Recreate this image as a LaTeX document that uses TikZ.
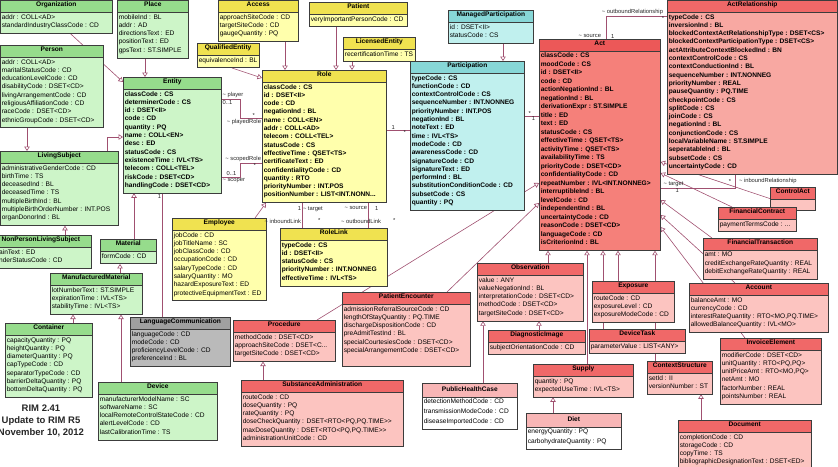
\documentclass[tikz,border=0pt]{standalone}
\usepackage{fontspec}
\setmainfont{Liberation Sans}
\usetikzlibrary{shapes.multipart, arrows.meta, backgrounds, positioning}
\setlength{\parindent}{0pt}

\definecolor{grnhd}{RGB}{150,220,140}
\definecolor{grnbd}{RGB}{205,245,200}
\definecolor{ylwhd}{RGB}{240,226,80}
\definecolor{ylwbd}{RGB}{255,255,172}
\definecolor{cynhd}{RGB}{135,215,215}
\definecolor{cynbd}{RGB}{192,240,238}
\definecolor{acthd}{RGB}{236,88,88}
\definecolor{actbd}{RGB}{245,128,122}
\definecolor{arbd}{RGB}{248,168,162}
\definecolor{pnkhd}{RGB}{240,104,104}
\definecolor{pnkbd}{RGB}{252,196,192}
\definecolor{palehd}{RGB}{248,182,182}
\definecolor{gryhd}{RGB}{160,160,160}
\definecolor{grybd}{RGB}{186,186,186}
\definecolor{lnk}{RGB}{160,80,112}
\definecolor{boxline}{RGB}{60,60,60}

\newcommand{\ttl}[1]{\rule[-1.8pt]{0pt}{6.6pt}\textbf{#1}}

\tikzset{
  umlclass/.style={rectangle split, rectangle split parts=2,
    rectangle split part align={center,left}, draw=boxline, line width=0.6pt,
    inner xsep=1.5pt, inner ysep=1.5pt, align=left, anchor=north west,
    font=\fontsize{6.6}{8.3}\selectfont,
    execute at end node={\rule[-3.8pt]{0pt}{1pt}}},
  entitycls/.style={umlclass, rectangle split part fill={grnhd,grnbd}},
  rolecls/.style={umlclass, rectangle split part fill={ylwhd,ylwbd}},
  partcls/.style={umlclass, rectangle split part fill={cynhd,cynbd}},
  actcls/.style={umlclass, rectangle split part fill={pnkhd,pnkbd}},
  palecls/.style={umlclass, rectangle split part fill={palehd,white},
    font=\fontsize{6.6}{10}\selectfont},
  othercls/.style={umlclass, rectangle split part fill={gryhd,grybd}},
  core/.style={font=\fontsize{6.6}{8.3}\selectfont\bfseries},
  gen/.style={draw=lnk, line width=0.6pt, -{Triangle[open, length=4.5pt, width=5.5pt]}},
  assoc/.style={draw=lnk, line width=0.6pt},
  lbl/.style={font=\fontsize{5.8}{7}\selectfont, inner sep=0.8pt, text=black!85},
}

\begin{document}
\begin{tikzpicture}[x=1pt, y=-1pt]
\useasboundingbox (0,0) rectangle (838,466);

% Entity classes
\node[entitycls, minimum width=112pt] (org) at (0,0)
  {\ttl{Organization}\nodepart{two}addr : COLL<AD>\\standardIndustryClassCode : CD};
\node[entitycls, minimum width=103pt] (person) at (0,45)
  {\ttl{Person}\nodepart{two}addr : COLL<AD>\\maritalStatusCode : CD\\educationLevelCode : CD\\disabilityCode : DSET<CD>\\livingArrangementCode : CD\\religiousAffiliationCode : CD\\raceCode : DSET<CD>\\ethnicGroupCode : DSET<CD>};
\node[entitycls, minimum width=118pt] (livsub) at (0,151)
  {\ttl{LivingSubject}\nodepart{two}administrativeGenderCode : CD\\birthTime : TS\\deceasedInd : BL\\deceasedTime : TS\\multipleBirthInd : BL\\multipleBirthOrderNumber : INT.POS\\organDonorInd : BL};
\node[entitycls, minimum width=101pt] (nonpers) at (-10,235)
  {\ttl{NonPersonLivingSubject}\nodepart{two}strainText : ED\\genderStatusCode : CD};
\node[entitycls, minimum width=71pt] (place) at (117,0)
  {\ttl{Place}\nodepart{two}mobileInd : BL\\addr : AD\\directionsText : ED\\positionText : ED\\gpsText : ST.SIMPLE};
\node[entitycls, core, minimum width=98pt] (entity) at (123,77)
  {Entity\nodepart{two}classCode : CS\\determinerCode : CS\\id : DSET<II>\\code : CD\\quantity : PQ\\name : COLL<EN>\\desc : ED\\statusCode : CS\\existenceTime : IVL<TS>\\telecom : COLL<TEL>\\riskCode : DSET<CD>\\handlingCode : DSET<CD>};
\node[entitycls, minimum width=56pt] (material) at (100,239)
  {\ttl{Material}\nodepart{two}formCode : CD};
\node[entitycls, minimum width=92pt] (manmat) at (50,273)
  {\ttl{ManufacturedMaterial}\nodepart{two}lotNumberText : ST.SIMPLE\\expirationTime : IVL<TS>\\stabilityTime : IVL<TS>};
\node[entitycls, minimum width=87pt] (container) at (5,323)
  {\ttl{Container}\nodepart{two}capacityQuantity : PQ\\heightQuantity : PQ\\diameterQuantity : PQ\\capTypeCode : CD\\separatorTypeCode : CD\\barrierDeltaQuantity : PQ\\bottomDeltaQuantity : PQ};
\node[entitycls, minimum width=119pt] (device) at (98,382)
  {\ttl{Device}\nodepart{two}manufacturerModelName : SC\\softwareName : SC\\localRemoteControlStateCode : CD\\alertLevelCode : CD\\lastCalibrationTime : TS};
\node[othercls, minimum width=100pt] (langcomm) at (130,317)
  {\ttl{LanguageCommunication}\nodepart{two}languageCode : CD\\modeCode : CD\\proficiencyLevelCode : CD\\preferenceInd : BL};

% Role classes
\node[rolecls, minimum width=80pt] (access) at (218,0)
  {\ttl{Access}\nodepart{two}approachSiteCode : CD\\targetSiteCode : CD\\gaugeQuantity : PQ};
\node[rolecls, minimum width=58pt] (qualent) at (197,43)
  {\ttl{QualifiedEntity}\nodepart{two}equivalenceInd : BL};
\node[rolecls, minimum width=98pt] (patient) at (309,2)
  {\ttl{Patient}\nodepart{two}veryImportantPersonCode : CD};
\node[rolecls, minimum width=72pt] (licent) at (343,37)
  {\ttl{LicensedEntity}\nodepart{two}recertificationTime : TS};
\node[rolecls, core, minimum width=124pt] (role) at (262,70)
  {Role\nodepart{two}classCode : CS\\id : DSET<II>\\code : CD\\negationInd : BL\\name : COLL<EN>\\addr : COLL<AD>\\telecom : COLL<TEL>\\statusCode : CS\\effectiveTime : QSET<TS>\\certificateText : ED\\confidentialityCode : CD\\quantity : RTO\\priorityNumber : INT.POS\\positionNumber : LIST<INT.NONN...};
\node[rolecls, minimum width=94pt] (employee) at (172,218)
  {\ttl{Employee}\nodepart{two}jobCode : CD\\jobTitleName : SC\\jobClassCode : CD\\occupationCode : CD\\salaryTypeCode : CD\\salaryQuantity : MO\\hazardExposureText : ED\\protectiveEquipmentText : ED};
\node[rolecls, core, minimum width=107pt] (rolelink) at (280,228)
  {RoleLink\nodepart{two}typeCode : CS\\id : DSET<II>\\statusCode : CS\\priorityNumber : INT.NONNEG\\effectiveTime : IVL<TS>};

% Participation classes
\node[partcls, minimum width=85pt] (mngpart) at (448,10)
  {\ttl{ManagedParticipation}\nodepart{two}id : DSET<II>\\statusCode : CS};
\node[partcls, core, minimum width=114pt] (part) at (410,61)
  {Participation\nodepart{two}typeCode : CS\\functionCode : CD\\contextControlCode : CS\\sequenceNumber : INT.NONNEG\\priorityNumber : INT.POS\\negationInd : BL\\noteText : ED\\time : IVL<TS>\\modeCode : CD\\awarenessCode : CD\\signatureCode : CD\\signatureText : ED\\performInd : BL\\substitutionConditionCode : CD\\subsetCode : CS\\quantity : PQ};

% Act classes
\node[actcls, core, rectangle split part fill={acthd,actbd}, font=\fontsize{6.6}{8.5}\selectfont\bfseries, minimum width=121pt] (act) at (539,39)
  {Act\nodepart{two}classCode : CS\\moodCode : CS\\id : DSET<II>\\code : CD\\actionNegationInd : BL\\negationInd : BL\\derivationExpr : ST.SIMPLE\\title : ED\\text : ED\\statusCode : CS\\effectiveTime : QSET<TS>\\activityTime : QSET<TS>\\availabilityTime : TS\\priorityCode : DSET<CD>\\confidentialityCode : CD\\repeatNumber : IVL<INT.NONNEG>\\interruptibleInd : BL\\levelCode : CD\\independentInd : BL\\uncertaintyCode : CD\\reasonCode : DSET<CD>\\languageCode : CD\\isCriterionInd : BL};
\node[actcls, core, rectangle split part fill={pnkhd,arbd}, minimum width=170pt] (actrel) at (667,0)
  {ActRelationship\nodepart{two}typeCode : CS\\inversionInd : BL\\blockedContextActRelationshipType : DSET<CS>\\blockedContextParticipationType : DSET<CS>\\actAttributeContextBlockedInd : BN\\contextControlCode : CS\\contextConductionInd : BL\\sequenceNumber : INT.NONNEG\\priorityNumber : REAL\\pauseQuantity : PQ.TIME\\checkpointCode : CS\\splitCode : CS\\joinCode : CS\\negationInd : BL\\conjunctionCode : CS\\localVariableName : ST.SIMPLE\\seperatableInd : BL\\subsetCode : CS\\uncertaintyCode : CD};
\node[actcls, minimum width=45pt, execute at end node={}] (controlact) at (770,187)
  {\ttl{ControlAct}\nodepart{two}\rule{0pt}{3pt}};
\node[actcls, minimum width=78pt] (fincontract) at (718,207)
  {\ttl{FinancialContract}\nodepart{two}paymentTermsCode : ...};
\node[actcls, minimum width=114pt] (fintrans) at (703,238)
  {\ttl{FinancialTransaction}\nodepart{two}amt : MO\\creditExchangeRateQuantity : REAL\\debitExchangeRateQuantity : REAL};
\node[actcls, minimum width=139pt] (account) at (689,283)
  {\ttl{Account}\nodepart{two}balanceAmt : MO\\currencyCode : CD\\interestRateQuantity : RTO<MO,PQ.TIME>\\allowedBalanceQuantity : IVL<MO>};
\node[actcls, minimum width=101pt] (invoice) at (720,338)
  {\ttl{InvoiceElement}\nodepart{two}modifierCode : DSET<CD>\\unitQuantity : RTO<PQ,PQ>\\unitPriceAmt : RTO<MO,PQ>\\netAmt : MO\\factorNumber : REAL\\pointsNumber : REAL};
\node[actcls, minimum width=65pt] (ctxstruct) at (647,361)
  {\ttl{ContextStructure}\nodepart{two}setId : II\\versionNumber : ST};
\node[actcls, minimum width=133pt] (document) at (678,420)
  {\ttl{Document}\nodepart{two}completionCode : CD\\storageCode : CD\\copyTime : TS\\bibliographicDesignationText : DSET<ED>};
\node[actcls, minimum width=82pt] (exposure) at (592,281)
  {\ttl{Exposure}\nodepart{two}routeCode : CD\\exposureLevel : CD\\exposureModeCode : CD};
\node[actcls, minimum width=96pt] (devtask) at (589,329)
  {\ttl{DeviceTask}\nodepart{two}parameterValue : LIST<ANY>};
\node[actcls, minimum width=100pt] (supply) at (533,364)
  {\ttl{Supply}\nodepart{two}quantity : PQ\\expectedUseTime : IVL<TS>};
\node[palecls, minimum width=95pt] (diet) at (526,413)
  {\rule[-4pt]{0pt}{10pt}\textbf{Diet}\nodepart{two}energyQuantity : PQ\\carbohydrateQuantity : PQ};
\node[actcls, minimum width=106pt] (observation) at (477,263)
  {\ttl{Observation}\nodepart{two}value : ANY\\valueNegationInd : BL\\interpretationCode : DSET<CD>\\methodCode : DSET<CD>\\targetSiteCode : DSET<CD>};
\node[actcls, minimum width=97pt] (diagimg) at (488,330)
  {\ttl{DiagnosticImage}\nodepart{two}subjectOrientationCode : CD};
\node[palecls, minimum width=95pt] (phc) at (422,383)
  {\rule[-4pt]{0pt}{10pt}\textbf{PublicHealthCase}\nodepart{two}detectionMethodCode : CD\\transmissionModeCode : CD\\diseaseImportedCode : CD};
\node[actcls, minimum width=128pt] (encounter) at (342,292)
  {\ttl{PatientEncounter}\nodepart{two}admissionReferralSourceCode : CD\\lengthOfStayQuantity : PQ.TIME\\dischargeDispositionCode : CD\\preAdmitTestInd : BL\\specialCourtesiesCode : DSET<CD>\\specialArrangementCode : DSET<CD>\\\mbox{}};
\node[actcls, minimum width=102pt] (procedure) at (233,320)
  {\ttl{Procedure}\nodepart{two}methodCode : DSET<CD>\\approachSiteCode : DSET<C...\\targetSiteCode : DSET<CD>};
\node[actcls, minimum width=162pt] (subadmin) at (241,380)
  {\ttl{SubstanceAdministration}\nodepart{two}routeCode : CD\\doseQuantity : PQ\\rateQuantity : PQ\\doseCheckQuantity : DSET<RTO<PQ,PQ.TIME>{}>\\maxDoseQuantity : DSET<RTO<PQ,PQ.TIME>{}>\\administrationUnitCode : CD};

\node[font=\fontsize{9.5}{12}\selectfont\bfseries, text=black!85, align=center] (rimnote) at (41,421)
  {RIM 2.41\\Update to RIM R5\\November 10, 2012};

\begin{scope}[on background layer]
% generalizations
\draw[gen] (org.south -| 70,0) -- (entity.west |- 0,82);
\draw[gen] (person.south -| 27,0) -- (livsub.north -| 27,0);
\draw[gen] (nonpers.north -| 65,0) -- (livsub.south -| 65,0);
\draw[gen] (livsub.north -| 107,0) |- (entity.west |- 0,137);
\draw[gen] (place.south -| 145,0) -- (entity.north -| 145,0);
\draw[gen] (material.north -| 134,0) -- (entity.south -| 134,0);
\draw[gen] (manmat.north -| 120,0) -- (material.south -| 120,0);
\draw[gen] (container.north -| 73,0) -- (manmat.south -| 73,0);
\draw[gen] (device.north -| 121,0) -- (manmat.south -| 121,0);
\draw[gen] (qualent.south -| 232,0) -- (role.west |- 0,78);
\draw[gen] (access.south -| 285,0) -- (role.north -| 285,0);
\draw[gen] (patient.south -| 336,0) -- (role.north -| 336,0);
\draw[gen] (licent.south -| 352,0) -- (role.north -| 352,0);
\draw[gen] (employee.north -| 255,0) -- (role.south -| 266,0);
\draw[gen] (mngpart.south -| 503,0) -- (part.north -| 503,0);
\draw[gen] (procedure.north -| 317,0) -- (act.west |- 0,183);
\draw[gen] (encounter.north -| 447,0) -- (act.west |- 0,203);
\draw[gen] (observation.north -| 548,0) -- (act.south -| 548,0);
\draw[gen] (supply.north -| 587,0) -- (act.south -| 587,0);
\draw[gen] (devtask.north -| 603,0) -- (act.south -| 603,0);
\draw[gen] (exposure.north -| 618,0) -- (act.south -| 618,0);
\draw[gen] (ctxstruct.north -| 655,0) -- (act.south -| 655,0);
\draw[gen] (controlact.west) -- (act.east |- 0,162);
\draw[gen] (fincontract.north -| 732,0) -- (act.east |- 0,173);
\draw[gen] (fintrans.north -| 712,0) -- (act.east |- 0,200);
\draw[gen] (account.north -| 735,0) -- (act.east |- 0,215);
\draw[gen] (invoice.north -| 745,0) -- (act.east |- 0,227);
\draw[gen] (subadmin.north -| 263,0) -- (procedure.south -| 263,0);
\draw[gen] (diagimg.north -| 539,0) -- (observation.south -| 539,0);
\draw[gen] (phc.north -| 483,0) -- (observation.south -| 483,0);
\draw[gen] (diet.north -| 553,0) -- (supply.south -| 553,0);
\draw[gen] (document.north -| 701,0) -- (ctxstruct.south -| 701,0);
% associations
\draw[assoc] (entity.east |- 0,99) -- ++(19,0) |- (role.west |- 0,118);
\draw[assoc] (entity.east |- 0,177) -- ++(19,0) |- (role.west |- 0,163);
\draw[assoc] (entity.south -| 162,0) -- (langcomm.north -| 162,0);
\draw[assoc] (role.east |- 0,130) -- (part.west |- 0,130);
\draw[assoc] (part.east |- 0,116) -- (act.west |- 0,116);
\draw[assoc] (role.south -| 302,0) -- (rolelink.north -| 302,0);
\draw[assoc] (role.south -| 368,0) -- (rolelink.north -| 368,0);
\draw[assoc] (act.north -| 606,0) |- (actrel.west |- 0,16);
\draw[assoc] (act.east |- 0,188) -| (actrel.south -| 735,0);
\end{scope}

% association ends
\node[lbl, anchor=south west] (plyr) at (entity.east |- 0,99) {\textasciitilde\ player};
\node[lbl, anchor=north west] (plyrm) at (entity.east |- 0,99) {0..1};
\node[lbl, anchor=south east, xshift=-6pt] (plrm) at (role.west |- 0,118) {*};
\node[lbl, anchor=north east] (plr) at (role.west |- 0,118) {\textasciitilde\ playedRole};
\node[lbl, anchor=south west, xshift=4pt] (scpm) at (entity.east |- 0,177) {0..1};
\node[lbl, anchor=north west] (scp) at (entity.east |- 0,177) {\textasciitilde\ scoper};
\node[lbl, anchor=south east] (scr) at (role.west |- 0,163) {\textasciitilde\ scopedRole};
\node[lbl, anchor=north east, xshift=-5pt] (scrm) at (role.west |- 0,163) {*};
\node[lbl, anchor=north east] (lcm) at (entity.south -| 162,0) {1};
\node[lbl, anchor=south west, xshift=4pt] (rpm) at (role.east |- 0,130) {1};
\node[lbl, anchor=north east, xshift=-3pt] (prm) at (part.west |- 0,130) {*};
\node[lbl, anchor=south west, xshift=3pt] (pam) at (part.east |- 0,116) {*};
\node[lbl, anchor=north east, xshift=-3pt] (apm) at (act.west |- 0,116) {1};
\node[lbl, anchor=north east, yshift=-3pt] (tgm) at (role.south -| 302,0) {1};
\node[lbl, anchor=north west, yshift=-3pt] (tg) at (role.south -| 302,0) {\textasciitilde\ target};
\node[lbl, anchor=east] (ibl) at (rolelink.north -| 302,0) [yshift=7pt] {\textasciitilde\ inboundLink};
\node[lbl, anchor=west, xshift=15pt] (iblm) at (rolelink.north -| 302,0) [yshift=7pt] {*};
\node[lbl, anchor=north east, yshift=-3pt] (src) at (role.south -| 368,0) {\textasciitilde\ source};
\node[lbl, anchor=north west, xshift=6pt, yshift=-3pt] (srcm) at (role.south -| 368,0) {1};
\node[lbl, anchor=east, xshift=14pt] (obl) at (rolelink.north -| 368,0) [yshift=7pt] {\textasciitilde\ outboundLink};
\node[lbl, anchor=west, xshift=24pt] (oblm) at (rolelink.north -| 368,0) [yshift=7pt] {*};
\node[lbl, anchor=south east, xshift=-4pt] (asrc) at (act.north -| 606,0) {\textasciitilde\ source};
\node[lbl, anchor=south west, xshift=4pt] (asrcm) at (act.north -| 606,0) {1};
\node[lbl, anchor=south east, xshift=-3pt] (orel) at (actrel.west |- 0,16) {\textasciitilde\ outboundRelationship};
\node[lbl, anchor=north east, xshift=-2pt] (orelm) at (actrel.west |- 0,16) {*};
\node[lbl, anchor=south west, xshift=2pt] (atg) at (act.east |- 0,188) {\textasciitilde\ target};
\node[lbl, anchor=north west, xshift=14pt] (atgm) at (act.east |- 0,188) {1};
\node[lbl, anchor=east, xshift=-3pt] (irelm) at (actrel.south -| 735,0) [yshift=-7pt] {*};
\node[lbl, anchor=west, xshift=3pt] (irel) at (actrel.south -| 735,0) [yshift=-7pt] {\textasciitilde\ inboundRelationship};
\end{tikzpicture}
\end{document}
